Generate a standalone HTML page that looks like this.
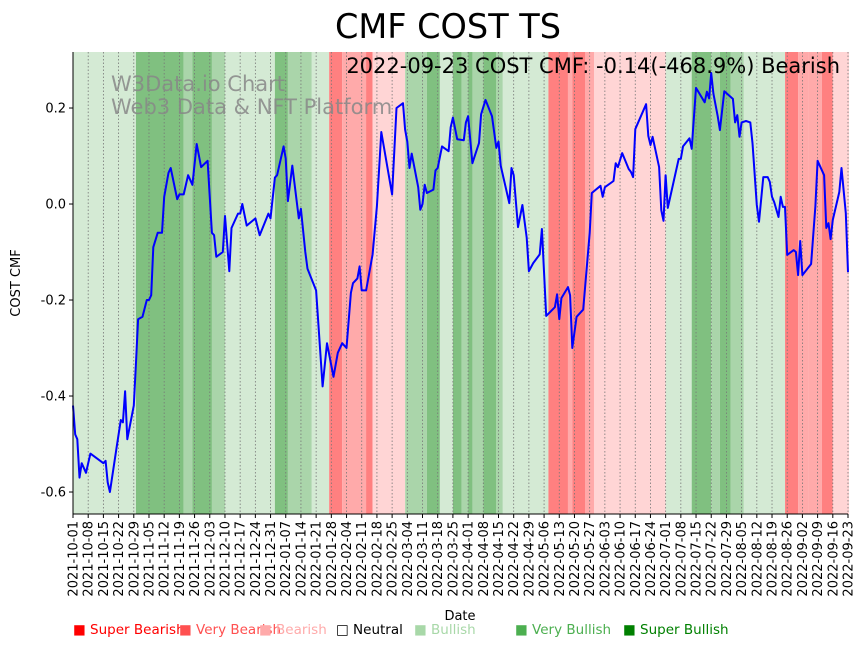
<!DOCTYPE html>
<html><head><meta charset="utf-8"><style>
body{margin:0;background:#fff;font-family:"Liberation Sans","DejaVu Sans",sans-serif}
svg text{font-family:"DejaVu Sans","Liberation Sans",sans-serif}
</style></head><body>
<svg id="chart" width="864" height="646" xmlns="http://www.w3.org/2000/svg">
<g id="bands"></g>
<g id="grid"></g>
<text x="111" y="91" font-size="21" fill="#888" opacity="0.85">W3Data.io Chart</text>
<text x="111" y="114" font-size="21" fill="#888" opacity="0.85">Web3 Data &amp; NFT Platform</text>
<path id="line" fill="none" stroke="#0000ff" stroke-width="2" stroke-linejoin="round"/>
<g id="axes"></g>
<text x="448" y="38" font-size="33.5" text-anchor="middle">CMF COST TS</text>
<text x="840" y="73" font-size="21" text-anchor="end">2022-09-23 COST CMF: -0.14(-468.9%) Bearish</text>
<text x="460" y="620" font-size="13" text-anchor="middle">Date</text>
<text transform="translate(20,283) rotate(-90)" font-size="13" text-anchor="middle">COST CMF</text>
<g font-size="13.5">
<text x="73" y="634" fill="#ff0000">■ Super Bearish</text>
<text x="179" y="634" fill="#ff5050">■ Very Bearish</text>
<text x="259" y="634" fill="#ffaaaa">■ Bearish</text>
<text x="336" y="634" fill="#000">□ Neutral</text>
<text x="414" y="634" fill="#a8d8a8">■ Bullish</text>
<text x="515" y="634" fill="#4caf50">■ Very Bullish</text>
<text x="623" y="634" fill="#008000">■ Super Bullish</text>
</g>
</svg>
<script>
const startDate = "2021-10-01";
const totalDays = 357;
const bandStarts = [0,29,51,55,64,70,93,99,110,118,124,135,138,153,163,169,175,179,182,184,189,195,198,219,228,230,236,240,273,285,294,298,303,309,328,334,339,345,350];
const bandLevels = [1,3,2,3,2,1,3,2,1,-3,-2,-3,-1,2,3,1,3,2,3,2,3,2,1,-3,-2,-3,-2,-1,1,3,2,3,2,1,-3,-2,-2,-3,-1];
const lineDays = [0,1,2,3,4,6,8,14,15,16,17,20,22,23,24,25,28,29,30,32,34,35,36,37,39,41,42,44,45,48,49,51,53,55,57,59,62,64,65,66,69,70,72,73,76,77,78,80,84,86,90,91,93,94,97,98,99,101,104,105,107,108,112,115,117,120,122,124,126,128,129,131,132,133,135,138,140,142,147,149,152,153,154,155,156,159,160,161,162,163,166,167,168,170,173,174,175,177,180,181,182,184,187,188,190,193,195,196,197,201,202,203,205,207,209,210,212,215,216,218,222,223,224,225,228,229,230,232,235,238,239,243,244,245,249,250,251,253,256,257,258,259,264,265,266,267,270,271,272,273,274,279,280,281,284,285,287,291,292,293,294,295,297,298,300,304,305,306,307,308,310,312,313,315,316,318,320,321,322,323,325,326,327,328,329,332,333,334,335,336,340,342,343,346,347,348,349,350,353,354,356,357];
const lineValues = [-0.42,-0.48,-0.49,-0.57,-0.54,-0.56,-0.52,-0.54,-0.535,-0.58,-0.60,-0.51,-0.45,-0.455,-0.39,-0.49,-0.42,-0.33,-0.24,-0.235,-0.20,-0.2,-0.19,-0.09,-0.06,-0.06,0.015,0.065,0.075,0.01,0.02,0.02,0.06,0.04,0.125,0.077,0.09,-0.06,-0.065,-0.11,-0.10,-0.025,-0.14,-0.05,-0.02,-0.02,0.0,-0.045,-0.03,-0.065,-0.02,-0.03,0.055,0.06,0.12,0.095,0.006,0.08,-0.03,-0.01,-0.10,-0.135,-0.18,-0.38,-0.29,-0.36,-0.31,-0.29,-0.30,-0.185,-0.165,-0.155,-0.13,-0.18,-0.18,-0.105,-0.005,0.15,0.02,0.2,0.21,0.155,0.13,0.075,0.105,0.035,-0.012,0.0,0.04,0.023,0.03,0.07,0.075,0.12,0.11,0.16,0.18,0.135,0.133,0.17,0.183,0.085,0.127,0.187,0.217,0.183,0.117,0.13,0.08,0.002,0.075,0.06,-0.048,-0.002,-0.07,-0.14,-0.123,-0.105,-0.052,-0.233,-0.215,-0.188,-0.24,-0.196,-0.173,-0.19,-0.30,-0.235,-0.22,-0.06,0.023,0.038,0.015,0.035,0.048,0.085,0.077,0.106,0.073,0.067,0.056,0.156,0.208,0.142,0.123,0.14,0.077,-0.013,-0.035,0.06,-0.008,0.094,0.094,0.12,0.137,0.115,0.242,0.212,0.234,0.22,0.273,0.23,0.183,0.154,0.235,0.219,0.17,0.185,0.14,0.17,0.173,0.17,0.127,-0.002,-0.037,0.056,0.056,0.046,0.015,0.004,-0.027,0.015,-0.006,-0.006,-0.106,-0.096,-0.1,-0.148,-0.077,-0.148,-0.125,-0.004,0.09,0.06,-0.05,-0.04,-0.073,-0.033,0.025,0.075,-0.019,-0.142];
const yTicks = [-0.6,-0.4,-0.2,0.0,0.2];

const X0=73,X1=848,Y0=52,Y1=514;
const yMin=-0.6458,yMax=0.3167;
const xs=d=>X0+(X1-X0)*d/totalDays;
const ys=v=>Y1-(Y1-Y0)*(v-yMin)/(yMax-yMin);
const NS="http://www.w3.org/2000/svg";
function mk(tag,attrs,parent){const e=document.createElementNS(NS,tag);for(const k in attrs)e.setAttribute(k,attrs[k]);parent.appendChild(e);return e;}
const colors={"-3":"#ff8080","-2":"#ffaaaa","-1":"#ffd5d5","1":"#d4ead4","2":"#aad5aa","3":"#80c080"};
const bandsG=document.getElementById('bands');
bandStarts.forEach((s,i)=>{
  const e=(i+1<bandStarts.length)?bandStarts[i+1]:totalDays+0.5;
  const r=mk('rect',{x:xs(s),y:Y0,width:Math.max(0,xs(e)-xs(s)),height:Y1-Y0,fill:colors[bandLevels[i]]},bandsG);
  
  
});
const gridG=document.getElementById('grid');
const axG=document.getElementById('axes');
const sd=new Date(startDate+"T00:00:00Z");
for(let d=0;d<=totalDays;d+=7){
  const x=xs(d);
  const gl=mk('line',{x1:x,x2:x,y1:Y0,y2:Y1,stroke:'#777','stroke-width':0.8,'stroke-dasharray':'1.5,2'},gridG);
  
  
  mk('line',{x1:x,x2:x,y1:Y1,y2:Y1+4,stroke:'#000'},axG);
  const dt=new Date(sd.getTime()+d*86400000).toISOString().slice(0,10);
  const t=mk('text',{transform:`translate(${x+4.5},${Y1+7}) rotate(-90)`,'font-size':13,'text-anchor':'end'},axG);
  t.textContent=dt;
  
  
}
yTicks.forEach(v=>{
  const y=ys(v);
  mk('line',{x1:X0-4,x2:X0,y1:y,y2:y,stroke:'#000'},axG);
  const t=mk('text',{x:X0-7,y:y+4.5,'font-size':13,'text-anchor':'end'},axG);
  t.textContent=v.toFixed(1);
  
  
});
mk('line',{x1:X0,x2:X0,y1:Y0,y2:Y1,stroke:'#000','stroke-width':1},axG);
mk('line',{x1:X0,x2:X1,y1:Y1,y2:Y1,stroke:'#000','stroke-width':1},axG);
document.getElementById('line').setAttribute('d',lineDays.map((d,i)=>(i?'L':'M')+xs(d).toFixed(1)+','+ys(lineValues[i]).toFixed(1)).join(''));
</script>
</body></html>
